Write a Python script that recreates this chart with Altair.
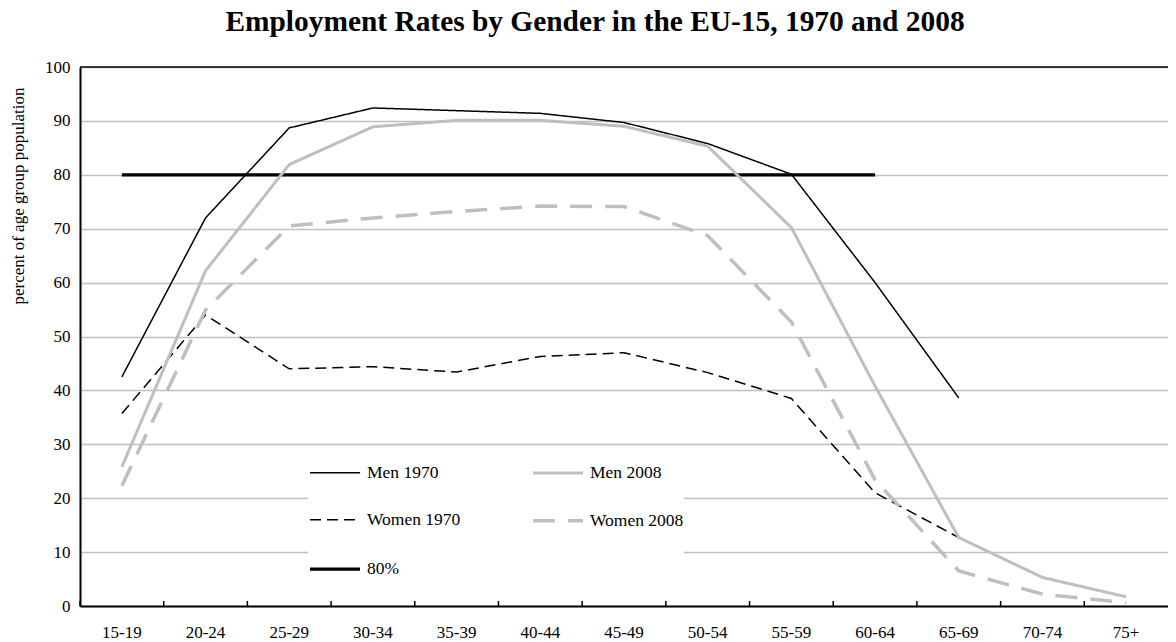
import altair as alt
import pandas as pd

FONT = "Liberation Serif"

categories = ["15-19", "20-24", "25-29", "30-34", "35-39", "40-44", "45-49",
              "50-54", "55-59", "60-64", "65-69", "70-74", "75+"]

men_1970 = [42.5, 72.0, 88.7, 92.4, 91.9, 91.4, 89.7, 85.8, 80.1, 60.0, 38.6]
men_2008 = [25.8, 62.2, 81.9, 88.9, 90.1, 90.1, 89.0, 85.3, 70.2, 40.8, 12.7, 5.3, 1.7]
women_1970 = [35.7, 54.0, 44.0, 44.4, 43.4, 46.3, 47.0, 43.3, 38.5, 21.0, 12.7]
women_2008 = [22.3, 54.9, 70.5, 72.0, 73.2, 74.2, 74.1, 68.7, 52.7, 23.4, 6.5, 2.2, 0.6]
target_80 = [80, 80, 80, 80, 80, 80, 80, 80, 80, 80]

# legend fills column by column: column 1 = first three, column 2 = last two
series_names = ["Men 1970", "Women 1970", "80%", "Men 2008", "Women 2008"]
series_values = [men_1970, women_1970, target_80, men_2008, women_2008]
series_colors = ["#000000", "#000000", "#000000", "#bfbfbf", "#bfbfbf"]
series_dashes = [[1, 0], [11, 6], [1, 0], [1, 0], [22, 13]]
series_widths = [1.5, 1.5, 3.2, 3, 3.5]

y_ticks = [0, 10, 20, 30, 40, 50, 60, 70, 80, 90, 100]

rows = []
for name, vals in zip(series_names, series_values):
    for cat, v in zip(categories, vals):
        rows.append({"series": name, "age": cat, "value": v})
df = pd.DataFrame(rows)

W, H = 1088, 539

x_scale = alt.Scale(type="band", domain=categories, paddingInner=0, paddingOuter=0)
x_axis = alt.Axis(title=None, ticks=False, grid=False, labelAngle=0, labelPadding=18,
                  labelFont=FONT, labelFontSize=17, labelColor="black",
                  domainColor="black", domainWidth=2)
y_scale = alt.Scale(domain=[0, 100], nice=False, zero=True)
y_axis = alt.Axis(values=y_ticks, title="percent of age group population",
                  titleFont=FONT, titleFontSize=17, titleFontWeight="normal",
                  titleColor="black", titleAngle=270, titleX=-62, titleY=128.5,
                  titleAlign="center", titleBaseline="middle",
                  ticks=False, labelPadding=10, labelFont=FONT, labelFontSize=17,
                  labelColor="black", grid=True, gridColor="#c0c0c0", gridWidth=1.3,
                  domainColor="black", domainWidth=2)

legend = alt.Legend(title=None, orient="none", legendX=228, legendY=379.5, columns=2,
                    symbolType="stroke", symbolSize=2500, labelFont=FONT,
                    labelFontSize=17.5, labelColor="black", labelOffset=5,
                    fillColor="white", padding=0, rowPadding=12.3, columnPadding=65,
                    labelLimit=0)

lines = alt.Chart(df).mark_line().encode(
    x=alt.X("age:N", scale=x_scale, axis=x_axis, bandPosition=0.5),
    y=alt.Y("value:Q", scale=y_scale, axis=y_axis),
    color=alt.Color("series:N", scale=alt.Scale(domain=series_names, range=series_colors), legend=legend),
    strokeDash=alt.StrokeDash("series:N", scale=alt.Scale(domain=series_names, range=series_dashes), legend=legend),
    strokeWidth=alt.StrokeWidth("series:N", scale=alt.Scale(type="ordinal", domain=series_names, range=series_widths), legend=legend),
)

ticks = alt.Chart(pd.DataFrame({"age": categories})).mark_rule(color="black", strokeWidth=1.5).encode(
    x=alt.X("age:N", scale=x_scale, axis=x_axis, bandPosition=0),
    y=alt.value(H - 5),
    y2=alt.value(H),
)

top_line = alt.Chart(pd.DataFrame({"value": [y_ticks[-1]]})).mark_rule(color="black", strokeWidth=1.5).encode(
    y=alt.Y("value:Q", scale=y_scale, axis=y_axis),
)

chart = alt.layer(lines, ticks, top_line).properties(
    width=W, height=H,
    title=alt.TitleParams("Employment Rates by Gender in the EU-15, 1970 and 2008",
                          font=FONT, fontSize=29.4, fontWeight="bold", color="black",
                          anchor="middle", frame="group", dx=-29, offset=21),
    autosize=alt.AutoSizeParams(type="none"),
    padding={"left": 72, "top": 59, "right": 0, "bottom": 34},
).configure_view(stroke=None).configure(background="white")

chart.save("out.html", embed_options={"renderer": "svg", "actions": False})
